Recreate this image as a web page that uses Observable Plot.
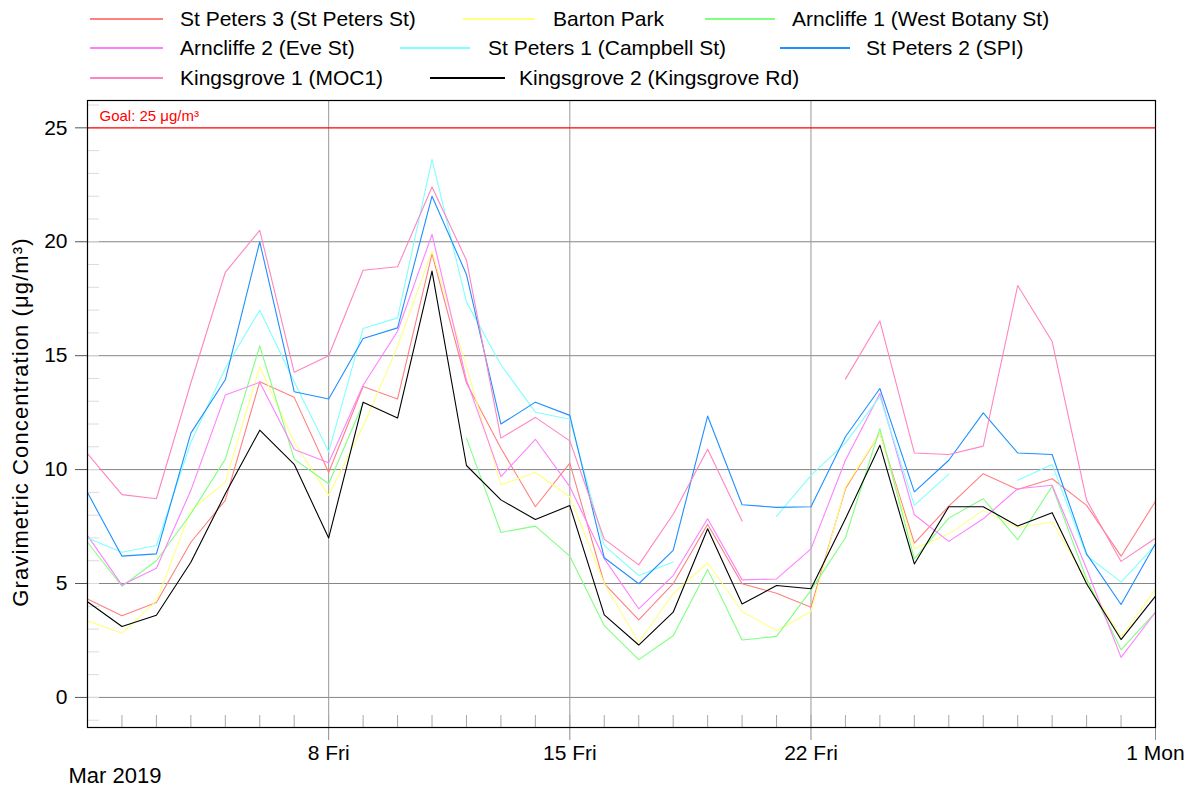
<!DOCTYPE html>
<html>
<head>
<meta charset="utf-8">
<script src="https://cdn.jsdelivr.net/npm/d3@7"></script>
<script src="https://cdn.jsdelivr.net/npm/@observablehq/plot@0.6"></script>
<style>
  body { margin: 0; background: #fff; font-family: "Liberation Sans", Arial, sans-serif; }
  #wrap { position: relative; width: 1193px; height: 798px; overflow: hidden; }
  #chart { position: absolute; left: 0; top: 0; }
  #legend { position: absolute; left: 0; top: 0; width: 1193px; height: 100px; z-index: 2; }
  .item { position: absolute; display: flex; align-items: center; height: 26px; font-size: 21px; color: #000; white-space: nowrap; }
  .swatch { display: inline-block; height: 1.5px; }
</style>
</head>
<body>
<div id="wrap">
  <div id="chart"></div>
  <div id="legend"></div>
</div>
<script>
// ---- data ----
const startDate = "2019-03-01";
const endDate = "2019-04-01";
const seriesNames = [
  "St Peters 3 (St Peters St)", "Barton Park", "Arncliffe 1 (West Botany St)",
  "Arncliffe 2 (Eve St)", "St Peters 1 (Campbell St)", "St Peters 2 (SPI)",
  "Kingsgrove 1 (MOC1)", "Kingsgrove 2 (Kingsgrove Rd)"
];
const seriesColors = ["#ff8080", "#ffff80", "#80ff80", "#ff80ff", "#80ffff", "#1e90ff", "#ff85c0", "#000000"];

// daily values, 1 Mar .. 1 Apr 2019 (null = no data)
const stPeters3 = [4.32, 3.58, 4.17, 6.81, 8.65, 13.86, 13.17, 9.87, 13.65, 13.1, 19.47, 13.8, 10.94, 8.37, 10.28, 5.0,
  3.4, 4.99, 7.6, 4.99, 4.57, 3.96, 9.16, 11.6, 6.77, 8.4, 9.82, 9.13, 9.6, 8.43, 6.2, 8.61];
const bartonPark = [3.36, 2.82, 4.24, 8.2, 9.45, 14.52, 11.2, 8.87, 11.9, 15.4, 19.59, 14.5, 9.33, 9.87, 8.81, 5.0,
  2.42, 4.55, 5.91, 3.77, 2.93, 3.77, 9.24, 11.6, 6.52, 7.18, 8.21, 7.45, 7.7, 5.13, 2.64, 4.74];
const arncliffe1 = [6.81, 4.88, 6.0, 8.06, 10.46, 15.43, 10.46, 9.38, 12.9, null, null, 11.38, 7.24, 7.52, 6.2, 3.15,
  1.66, 2.71, 5.62, 2.52, 2.68, 4.7, 7.01, 11.8, 6.08, 7.87, 8.72, 6.92, 9.27, 5.2, 2.09, 3.74];
const arncliffe2 = [7.1, 4.93, 5.67, 9.09, 13.27, 13.83, 10.88, 10.3, 13.7, 16.07, 20.32, 13.94, 9.69, 11.33, 9.25, 6.09,
  3.89, 5.35, 7.84, 5.16, 5.2, 6.52, 10.41, 13.34, 8.02, 6.85, 7.84, 9.16, 9.31, 5.65, 1.76, 3.74];
const stPeters1 = [7.0, 6.37, 6.67, 11.2, 14.45, 17.0, 13.86, 10.78, 16.19, 16.66, 23.62, 17.35, 14.6, 12.52, 12.21, 6.67,
  5.35, 5.94, null, null, 7.95, 9.75, 11.17, 13.2, 8.43, 9.8, null, 9.53, 10.22, 6.23, 5.06, 6.7];
const stPeters2 = [8.99, 6.2, 6.3, 11.6, 13.94, 20.0, 13.42, 13.1, 15.75, 16.22, 22.0, 18.56, 12.0, 12.96, 12.38, 6.13,
  4.99, 6.45, 12.35, 8.46, 8.34, 8.37, 11.44, 13.56, 9.02, 10.41, 12.49, 10.73, 10.66, 6.3, 4.08, 6.76];
const kingsgrove1 = [10.7, 8.9, 8.72, 13.8, 18.66, 20.5, 14.27, 15.0, 18.75, 18.9, 22.4, 19.19, 11.38, 12.29, 11.26, 6.95,
  5.82, 8.04, 10.89, 7.74, null, null, 13.97, 16.52, 10.73, 10.66, 11.03, 18.08, 15.62, 8.66, 5.97, 6.99];
const kingsgrove2 = [4.2, 3.11, 3.61, 5.93, 8.94, 11.73, 10.23, 7.0, 12.96, 12.26, 18.71, 10.18, 8.67, 7.81, 8.42, 3.62,
  2.3, 3.74, 7.4, 4.1, 4.91, 4.77, 7.84, 11.07, 5.86, 8.37, 8.37, 7.52, 8.11, 4.99, 2.54, 4.45];
const seriesValues = [stPeters3, bartonPark, arncliffe1, arncliffe2, stPeters1, stPeters2, kingsgrove1, kingsgrove2];

const xMajorDates = ["2019-03-08", "2019-03-15", "2019-03-22", "2019-04-01"];
const xMajorLabels = ["8 Fri", "15 Fri", "22 Fri", "1 Mon"];
const yTicks = [0, 5, 10, 15, 20, 25];
const yGridValues = [0, 5, 10, 15, 20];
const yMinorTicks = d3.range(-1, 27);
const goalValue = 25;
const goalLabel = "Goal: 25 μg/m³";
const yLabel = "Gravimetric Concentration (μg/m³)";
const monthLabel = "Mar 2019";
const yDomain = [-1.32, 26.2];

// ---- build table ----
const t0 = new Date(startDate + "T00:00:00Z");
const t1 = new Date(endDate + "T00:00:00Z");
const days = d3.utcDay.range(t0, d3.utcDay.offset(t1, 1));
const rows = [];
seriesNames.forEach((name, k) => {
  seriesValues[k].forEach((v, i) => rows.push({date: days[i], value: v, series: name}));
});
const majorDates = xMajorDates.map(s => new Date(s + "T00:00:00Z"));
const gridDates = majorDates.filter(d => +d < +t1);
const goalRows = [{date: t0, value: goalValue, label: goalLabel}];

const FONT = "Liberation Sans, Arial, sans-serif";

const chart = Plot.plot({
  width: 1193,
  height: 798,
  marginLeft: 87,
  marginRight: 38,
  marginTop: 100,
  marginBottom: 71,
  style: {fontFamily: FONT, fontSize: "21px", color: "#000", background: "transparent"},
  x: {type: "utc", domain: [t0, t1]},
  y: {domain: yDomain},
  color: {domain: seriesNames, range: seriesColors},
  marks: [
    Plot.ruleY(yGridValues, {stroke: "#858585", strokeWidth: 1}),
    Plot.ruleX(gridDates, {stroke: "#9a9a9a", strokeWidth: 1}),
    Plot.axisX(days, {anchor: "bottom", tickSize: 12, dy: -12, tickFormat: () => "", stroke: "#a8a8a8", label: null}),
    Plot.axisY(yMinorTicks, {anchor: "left", tickSize: 12, dx: 12, tickFormat: () => "", stroke: "#dcdcdc", label: null}),
    Plot.axisX(majorDates, {anchor: "bottom", tickSize: 13, tickPadding: 5, tickFormat: (d, i) => xMajorLabels[i], stroke: "#8a8a8a", fontSize: 21, fill: "#000", label: null}),
    Plot.axisY(yTicks, {anchor: "left", tickSize: 12, tickPadding: 8, stroke: "#555", fontSize: 21, fill: "#000", label: null}),
    Plot.ruleY([goalValue], {stroke: "#ff0000", strokeWidth: 1.2}),
    Plot.text(goalRows, {x: "date", y: "value", text: "label", dx: 12, dy: -12, textAnchor: "start", fill: "#ff0000", fontSize: 15}),
    Plot.lineY(rows, {x: "date", y: "value", z: "series", stroke: "series", strokeWidth: 1.1, curve: "linear"}),
    Plot.frame({stroke: "#000", strokeWidth: 1.2}),
    Plot.text([yLabel], {frameAnchor: "left", textAnchor: "middle", rotate: -90, dx: -67, dy: 8, fontSize: 22, fill: "#000", style: "letter-spacing:1px"}),
    Plot.text([monthLabel], {frameAnchor: "bottom-left", dx: -19, dy: 55, textAnchor: "start", fontSize: 22, fill: "#000"})
  ]
});
document.getElementById("chart").appendChild(chart);
// letter spacing for the y label (styling only)
chart.querySelectorAll("text").forEach(t => { if (t.textContent === yLabel) t.setAttribute("letter-spacing", "1.1"); });

// ---- legend (layout only) ----
const legendLayout = [
  [0, 90, 163, 180, 19], [1, 463, 535, 553, 19], [2, 705, 775, 792, 19],
  [3, 90, 163, 180, 48], [4, 400, 470, 488, 48], [5, 780, 850, 866, 48],
  [6, 90, 163, 180, 78], [7, 430, 505, 519, 78]
];
const legend = document.getElementById("legend");
legendLayout.forEach(([k, l0, l1, tx, cy]) => {
  const sw = document.createElement("div");
  sw.className = "item";
  sw.style.left = l0 + "px";
  sw.style.top = (cy - 13) + "px";
  const line = document.createElement("span");
  line.className = "swatch";
  line.style.width = (l1 - l0) + "px";
  line.style.background = seriesColors[k];
  sw.appendChild(line);
  legend.appendChild(sw);
  const lab = document.createElement("div");
  lab.className = "item";
  lab.style.left = tx + "px";
  lab.style.top = (cy - 13) + "px";
  lab.textContent = seriesNames[k];
  legend.appendChild(lab);
});
</script>
</body>
</html>
